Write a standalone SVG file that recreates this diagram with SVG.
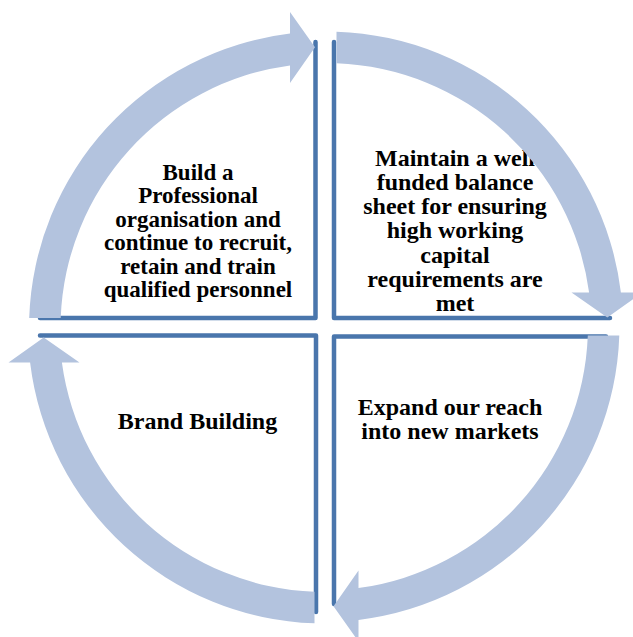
<svg xmlns="http://www.w3.org/2000/svg" width="633" height="637" viewBox="0 0 633 637">
<style>
.q{fill:none;stroke:#4a76ac;stroke-width:4.5;stroke-linejoin:round;stroke-linecap:round}
.a{fill:#b3c3de;stroke:none}
.t{font-family:"Liberation Serif","Times New Roman",serif;font-weight:bold;font-size:23px;fill:#000;text-anchor:middle}
.b{font-size:24px}
</style>
<defs>
<path id="arrow" d="M 29.2 318 A 296.5 296.5 0 0 1 290 33.6 L 290 12 L 315 47.2 L 290 83 L 290 65.4 A 265 265 0 0 0 60.7 318 Z"/>
</defs>
<rect width="633" height="637" fill="#fff"/>
<g id="n1">
<path class="q" d="M315.5 42 V318 H40"/>
<text class="t"><tspan x="198" y="180">Build a</tspan><tspan x="198" y="203.4">Professional</tspan><tspan x="198" y="226.8">organisation and</tspan><tspan x="198" y="250.2">continue to recruit,</tspan><tspan x="198" y="273.6">retain and train</tspan><tspan x="198" y="297">qualified personnel</tspan></text>
</g>
<g id="n2">
<path class="q" d="M334 42 V318 H610"/>
<text class="t b"><tspan x="455" y="165.5">Maintain a well</tspan><tspan x="455" y="189.8">funded balance</tspan><tspan x="455" y="214.1">sheet for ensuring</tspan><tspan x="455" y="238.4">high working</tspan><tspan x="455" y="262.7">capital</tspan><tspan x="455" y="287">requirements are</tspan><tspan x="455" y="311.3">met</tspan></text>
</g>
<g id="n3">
<path class="q" d="M334 604 V336.5 H606"/>
<text class="t b"><tspan x="450" y="415">Expand our reach</tspan><tspan x="450" y="438.5">into new markets</tspan></text>
</g>
<g id="n4">
<path class="q" d="M316 612 V335.5 H40"/>
<text class="t b" x="197.5" y="429">Brand Building</text>
</g>
<g id="connectors">
<use class="a" href="#arrow"/>
<use class="a" href="#arrow" transform="translate(1 0) rotate(90 325.5 328)"/>
<use class="a" href="#arrow" transform="translate(-2.5 -2.5) rotate(180 325.5 328)"/>
<use class="a" href="#arrow" transform="translate(-1 -1) rotate(270 325.5 328)"/>
</g>
</svg>
